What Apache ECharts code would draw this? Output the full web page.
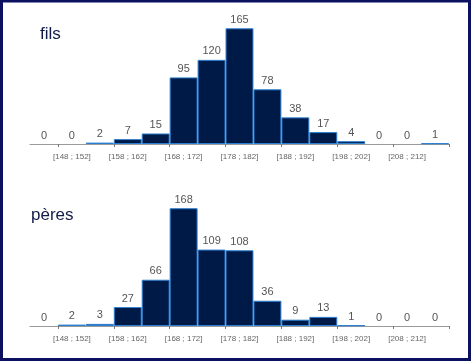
<!DOCTYPE html>
<html><head><meta charset="utf-8">
<script src="https://cdn.jsdelivr.net/npm/echarts@6/dist/echarts.min.js"></script>
<style>html,body{margin:0;padding:0;background:#fff}#c{width:471px;height:361px}</style>
</head><body><div id="c"></div>
<script>
const binStarts = [143,148,153,158,163,168,173,178,183,188,193,198,203,208,213];
const categories = binStarts.map(s => '[' + s + ' ; ' + (s + 4) + ']');
const filsValues = [0,0,2,7,15,95,120,165,78,38,17,4,0,0,1];
const peresValues = [0,2,3,27,66,168,109,108,36,9,13,1,0,0,0];
const titles = ['fils', 'pères'];

const chart = echarts.init(document.getElementById('c'));
const font = '"Liberation Sans", Arial, sans-serif';
function xAxis(gi){
  return {type:'category', gridIndex:gi, data:categories, boundaryGap:true,
    axisLine:{lineStyle:{color:'#9a9a9a', width:1}},
    axisTick:{show:true, length:3, lineStyle:{color:'#777'}},
    axisLabel:{interval:(i)=>i%2===1, fontSize:8, color:'#666', fontFamily:font, margin:9, hideOverlap:false}};
}
function yAxis(gi){
  return {type:'value', gridIndex:gi, min:0, max:180, show:false, splitLine:{show:false}};
}
function series(gi, data){
  return {type:'bar', xAxisIndex:gi, yAxisIndex:gi, barWidth:'100%', barCategoryGap:'0%',
    data:data.map(v => v === 0 ? {value:v, itemStyle:{borderWidth:0}} : v),
    itemStyle:{color:'#001a48', borderColor:'#2b7fd0', borderWidth:1},
    label:{show:true, position:'top', distance:3, fontSize:11, color:'#555', fontFamily:font}};
}
chart.setOption({
  animation:false,
  backgroundColor:'#fff',
  grid:[{left:30, width:419, top:17.8, height:126.2},{left:30, width:419, top:199.8, height:126.2}],
  xAxis:[xAxis(0), xAxis(1)],
  yAxis:[yAxis(0), yAxis(1)],
  series:[series(0, filsValues), series(1, peresValues)],
  graphic:[
    {type:'rect', shape:{x:1.5, y:1, width:468, height:358.5}, style:{fill:null, stroke:'#0b1060', lineWidth:3}},
    {type:'text', left:40, top:26, style:{text:titles[0], font:'17px '+font, fill:'#111b4a'}},
    {type:'text', left:31, top:207, style:{text:titles[1], font:'17px '+font, fill:'#111b4a'}}
  ]
});
</script></body></html>
